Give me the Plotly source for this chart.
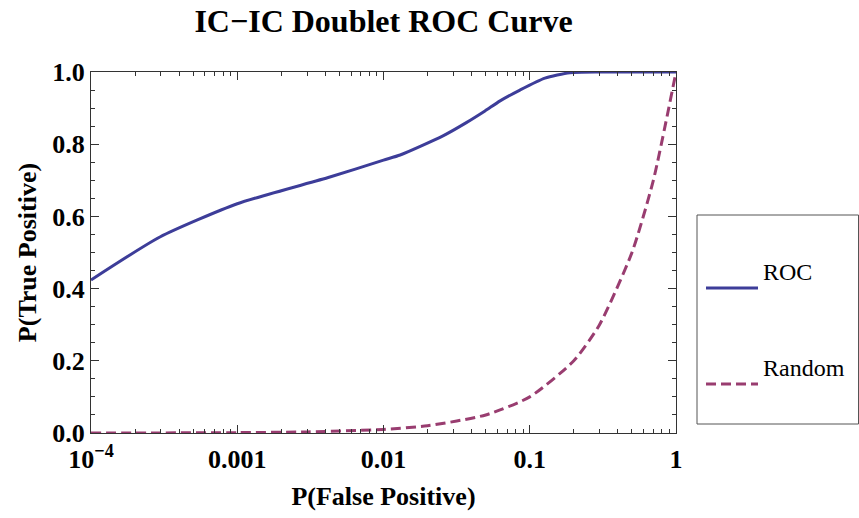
import plotly.graph_objects as go

# ROC curve
roc_fpr = [1e-4, 2.96e-4, 1e-3, 4.3e-3, 0.01, 0.013, 0.0255, 0.0366, 0.0494, 0.0627, 0.0857, 0.127, 0.188, 0.3, 0.5, 1.0]
roc_tpr = [0.424, 0.543, 0.635, 0.709, 0.756, 0.770, 0.823, 0.859, 0.892, 0.920, 0.950, 0.983, 0.998, 1.0, 1.0, 1.0]

# Random classifier reference
rand_fpr = [1e-4, 3e-4, 1e-3, 3e-3, 0.01, 0.02, 0.05, 0.1, 0.2, 0.3, 0.5, 0.7, 1.0]
rand_tpr = [1e-4, 3e-4, 1e-3, 3e-3, 0.01, 0.02, 0.05, 0.1, 0.2, 0.3, 0.5, 0.7, 1.0]

x_tickvals = [1e-4, 1e-3, 1e-2, 1e-1, 1]
x_ticktext = ["10<sup>\u22124</sup>", "0.001", "0.01", "0.1", "1"]
y_tickvals = [0.0, 0.2, 0.4, 0.6, 0.8, 1.0]
y_ticktext = ["0.0", "0.2", "0.4", "0.6", "0.8", "1.0"]

series_names = ["ROC", "Random"]
blue = "rgb(61,61,153)"
purple = "rgb(153,61,112)"
rand_dash = "10px,5px"

fig = go.Figure()
fig.add_trace(go.Scatter(x=roc_fpr, y=roc_tpr, mode="lines", name=series_names[0],
                         line=dict(color=blue, width=3, shape="spline", smoothing=0.6), cliponaxis=False))
fig.add_trace(go.Scatter(x=rand_fpr, y=rand_tpr, mode="lines", name=series_names[1],
                         line=dict(color=purple, width=3, dash=rand_dash, shape="spline", smoothing=0.6),
                         cliponaxis=False))

serif = "Liberation Serif, Times New Roman, serif"
axcol = "#333"

fig.update_layout(
    width=859, height=518,
    margin=dict(l=91, r=183, t=72, b=85),
    paper_bgcolor="white", plot_bgcolor="white",
    showlegend=False,
    title=dict(text="<b>IC\u2212IC Doublet ROC Curve</b>", x=(91 + 676) / 2 / 859, xanchor="center",
               y=1 - 21 / 518, yanchor="middle", font=dict(family=serif, size=32, color="black")),
    font=dict(family=serif, color="black"),
)
fig.update_xaxes(
    type="log", range=[-4, 0], tickvals=x_tickvals, ticktext=["<b>%s</b>" % t for t in x_ticktext],
    ticks="inside", ticklen=8, tickcolor=axcol, showline=True, linecolor=axcol, linewidth=1,
    mirror="ticks", showgrid=False, zeroline=False, ticklabelstandoff=3,
    tickfont=dict(family=serif, size=26, color="black"),
    minor=dict(ticks="inside", ticklen=4, tickcolor=axcol, dtick="D1", showgrid=False),
    title=dict(text="<b>P(False Positive)</b>", font=dict(family=serif, size=26, color="black"), standoff=13),
)
fig.update_yaxes(
    range=[0, 1], tickvals=y_tickvals, ticktext=["<b>%s</b>" % t for t in y_ticktext],
    ticks="inside", ticklen=8, tickcolor=axcol, showline=True, linecolor=axcol, linewidth=1,
    mirror="ticks", showgrid=False, zeroline=False,
    tickfont=dict(family=serif, size=26, color="black"),
    minor=dict(ticks="inside", ticklen=4, tickcolor=axcol, dtick=0.05, showgrid=False),
    title=dict(text="<b>P(True Positive)</b>", font=dict(family=serif, size=26, color="black"), standoff=8),
)

# Manual legend box
def px_x(p):
    return (p - 91) / 585

def px_y(p):
    return (433 - p) / 361

fig.add_shape(type="rect", xref="paper", yref="paper", x0=px_x(697), x1=px_x(858.5), y0=px_y(424), y1=px_y(215),
              line=dict(color="#555", width=1), fillcolor="white")
for name, col, dash, ly in [(series_names[0], blue, "solid", 288), (series_names[1], purple, rand_dash, 384)]:
    fig.add_shape(type="line", xref="paper", yref="paper", x0=px_x(706), x1=px_x(758), y0=px_y(ly), y1=px_y(ly),
                  line=dict(color=col, width=3, dash=dash))
    fig.add_annotation(xref="paper", yref="paper", x=px_x(761), y=px_y(ly - 16), text=name, showarrow=False,
                       xanchor="left", yanchor="middle", font=dict(family=serif, size=24, color="black"))

fig.write_html("out.html")
